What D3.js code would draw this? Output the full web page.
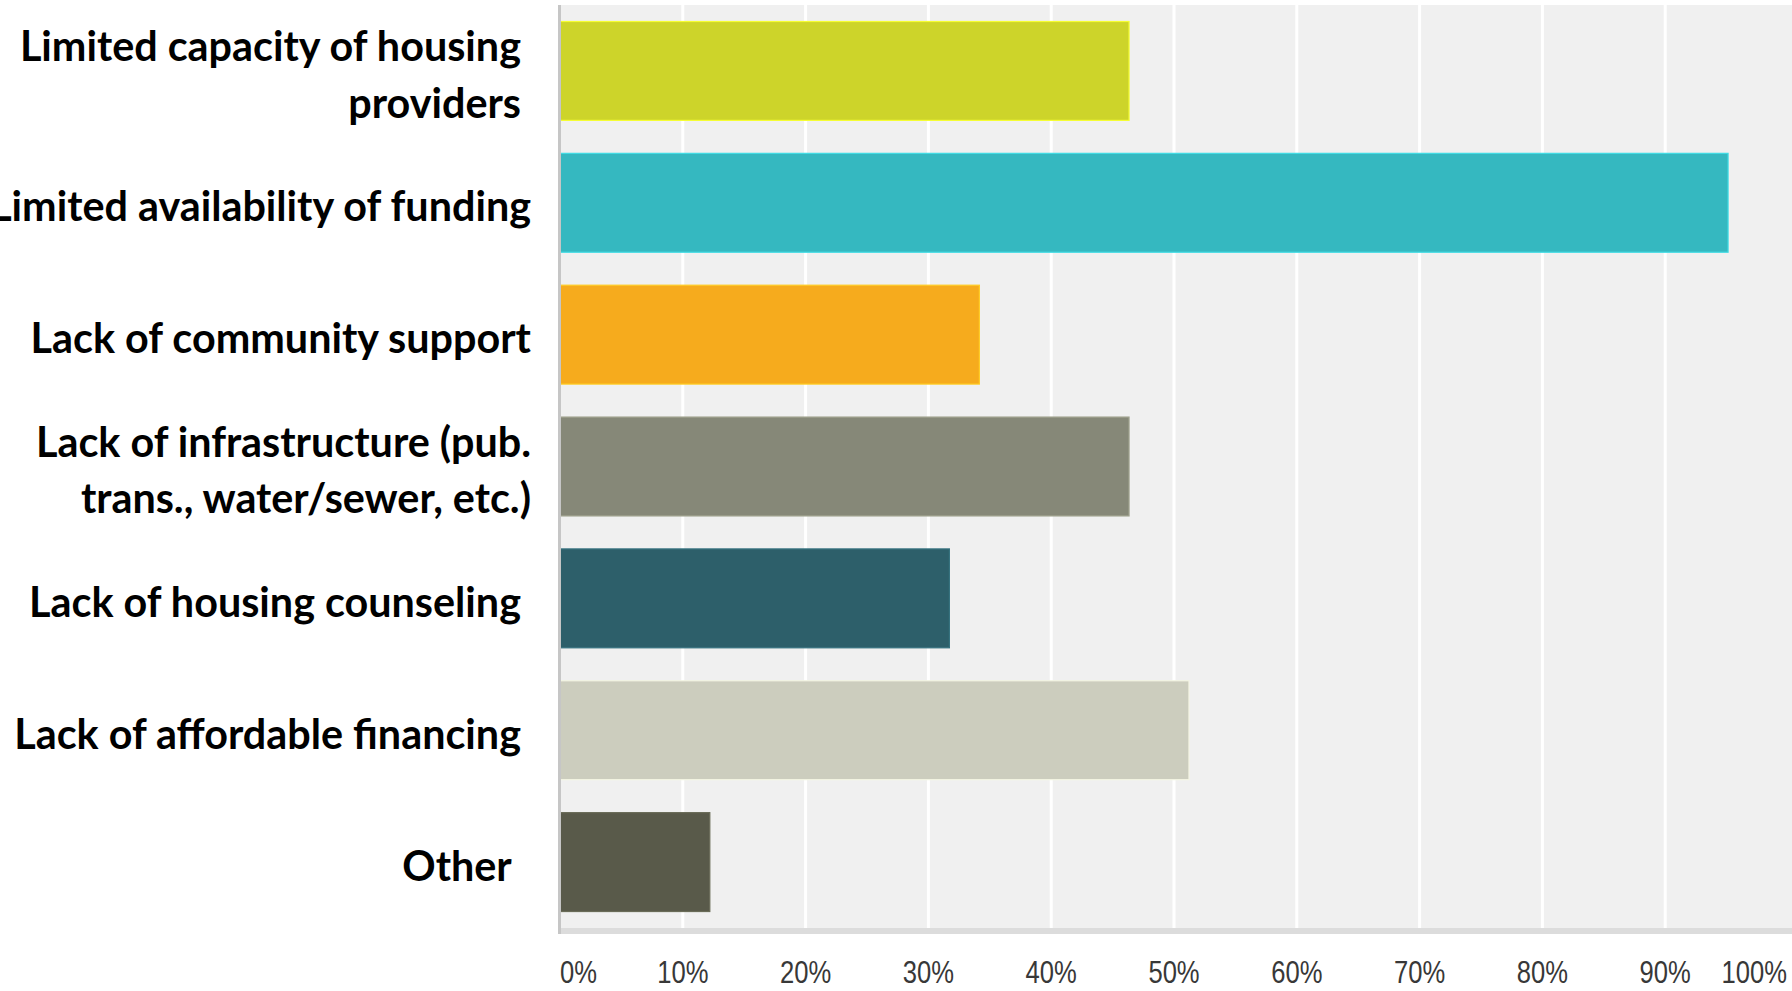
<!DOCTYPE html>
<html>
<head>
<meta charset="utf-8">
<script src="https://cdn.jsdelivr.net/npm/d3@7"></script>
<style>
  html, body { margin: 0; padding: 0; background: #ffffff; }
  svg { display: block; }
</style>
</head>
<body>
<svg id="chart" width="1792" height="991"></svg>
<script>
// Survey responses: obstacles to housing development (share of respondents, %)
const categories = [
  ["Limited capacity of housing\u00a0", "providers\u00a0"],
  ["Limited availability of funding"],
  ["Lack of community support"],
  ["Lack of infrastructure (pub.", "trans., water/sewer, etc.)"],
  ["Lack of housing counseling\u00a0"],
  ["Lack of affordable financing\u00a0"],
  ["Other\u00a0\u00a0"]
];
const values = [46.34, 95.12, 34.15, 46.34, 31.71, 51.22, 12.20];
const barColors = ["#cdd42a", "#35b8c0", "#f6ab1d", "#868878", "#2d5f6a", "#cccdbe", "#595a4a"];
const tickValues = [0, 10, 20, 30, 40, 50, 60, 70, 80, 90, 100];
const tickLabels = ["0%", "10%", "20%", "30%", "40%", "50%", "60%", "70%", "80%", "90%", "100%"];

const W = 1792, H = 991;
const plot = { left: 560, right: 1788, top: 5, bottom: 928 };

const svg = d3.select("#chart");

const x = d3.scaleLinear().domain([0, 100]).range([plot.left, plot.right]);
const y = d3.scaleBand()
  .domain(d3.range(categories.length))
  .range([plot.top, plot.bottom])
  .paddingInner(0.25)
  .paddingOuter(0.125);

// plot background
svg.append("rect")
  .attr("x", plot.left).attr("y", plot.top)
  .attr("width", W - plot.left).attr("height", plot.bottom - plot.top)
  .attr("fill", "#f0f0f0");

// vertical gridlines
svg.append("g")
  .selectAll("line")
  .data(tickValues.filter(v => v > 0 && v < 100))
  .join("line")
  .attr("x1", d => x(d)).attr("x2", d => x(d))
  .attr("y1", plot.top).attr("y2", plot.bottom)
  .attr("stroke", "#ffffff")
  .attr("stroke-width", 3);

// bars
svg.append("g")
  .selectAll("rect")
  .data(values)
  .join("rect")
  .attr("x", x(0))
  .attr("y", (d, i) => y(i))
  .attr("width", d => x(d) - x(0))
  .attr("height", y.bandwidth())
  .attr("fill", (d, i) => barColors[i])
  .attr("stroke", (d, i) => d3.color(barColors[i]).brighter(0.5).formatHex())
  .attr("stroke-width", 1.2);

// baseline strips
svg.append("rect")
  .attr("x", plot.left - 2).attr("y", plot.bottom)
  .attr("width", W - plot.left + 2).attr("height", 6)
  .attr("fill", "#dcdcdc");
svg.append("rect")
  .attr("x", plot.left - 2).attr("y", plot.top)
  .attr("width", 3).attr("height", plot.bottom - plot.top + 6)
  .attr("fill", "#c6c6c6");

// x axis labels
const xAxis = d3.axisBottom(x)
  .tickValues(tickValues)
  .tickFormat((d, i) => tickLabels[i])
  .tickSize(0);
const gx = svg.append("g")
  .attr("transform", `translate(0,${plot.bottom})`)
  .call(xAxis);
gx.select(".domain").remove();
gx.selectAll(".tick text")
  .attr("y", 0)
  .attr("dy", 0)
  .attr("fill", "#383838")
  .style("font-family", "'Liberation Sans', Arial, sans-serif")
  .style("font-size", "32px")
  .attr("text-anchor", (d, i) => i === 0 ? "start" : (i === tickValues.length - 1 ? "end" : "middle"))
  .attr("transform", "translate(0,55) scale(0.8,1)");
gx.selectAll(".tick")
  .attr("transform", (d, i) => {
    let px = x(d);
    if (i === tickValues.length - 1) px = W - 5;
    return `translate(${px},0)`;
  });

// category labels
const labelX = 531;
const fontFamily = "Lato, 'Open Sans', sans-serif";
const probe = svg.append("text")
  .style("font-family", fontFamily).style("font-weight", 700)
  .style("font-size", "36px")
  .text(categories[1][0]);
const measured = probe.node().getComputedTextLength();
probe.remove();
const fontSize = 36 * 541 / measured;
const lineH = fontSize * 1.36;

const labels = svg.append("g")
  .selectAll("text")
  .data(categories)
  .join("text")
  .attr("x", labelX)
  .attr("y", (d, i) => y(i) + y.bandwidth() / 2)
  .attr("text-anchor", "end")
  .attr("fill", "#000000")
  .style("font-family", fontFamily)
  .style("font-weight", 700)
  .style("font-size", fontSize + "px")
  .style("white-space", "pre");

labels.selectAll("tspan")
  .data(d => d.map((t, k) => ({ t, k, n: d.length })))
  .join("tspan")
  .attr("x", labelX)
  .attr("dy", d => d.k === 0 ? (0.45 * fontSize - (d.n - 1) * lineH / 2) : lineH)
  .text(d => d.t);
</script>
</body>
</html>
